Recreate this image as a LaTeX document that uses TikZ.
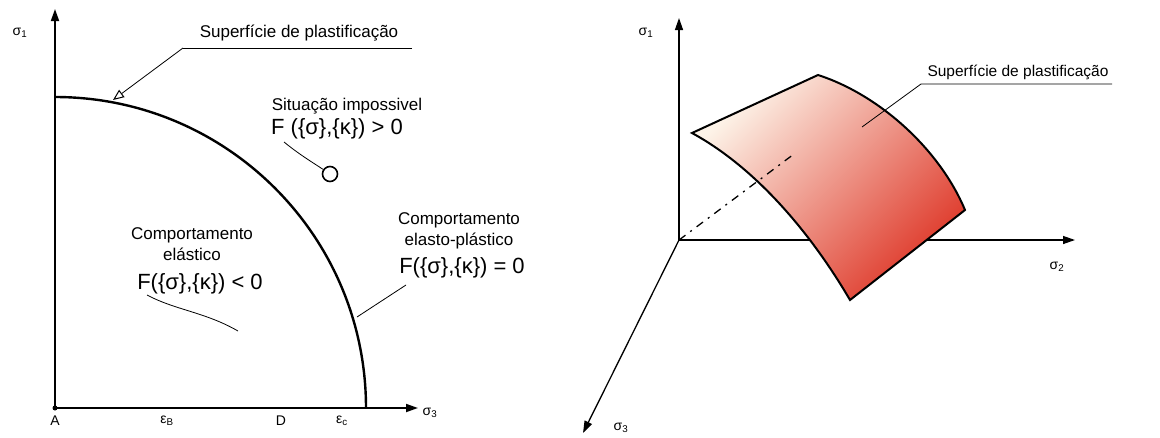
\documentclass[tikz,border=0pt]{standalone}
\usepackage{fontspec}
\setmainfont{Liberation Sans}
\usetikzlibrary{arrows.meta}
\definecolor{cream}{RGB}{253,243,232}
\definecolor{pinkmid}{RGB}{242,160,140}
\definecolor{surfred}{RGB}{222,55,40}
\tikzset{
  axisline/.style={line width=1.8pt, -{Triangle[length=12pt,width=8pt]}},
  yieldcurve/.style={line width=2.4pt},
  leader/.style={line width=0.8pt},
  lbl/.style={font=\fontsize{17}{20}\selectfont, inner sep=0pt},
  rlbl/.style={font=\fontsize{15.5}{18}\selectfont, inner sep=0pt},
  formula/.style={font=\fontsize{22}{24}\selectfont, inner sep=0pt},
  small/.style={font=\fontsize{14}{16}\selectfont, inner sep=0pt},
}
\begin{document}
\begin{tikzpicture}[x=1pt,y=-1pt]
\useasboundingbox (0,0) rectangle (1160,437);
% ---------- left diagram ----------
\coordinate (A) at (55,408);
\coordinate (Ytop) at (55,9);
\coordinate (Xend) at (418,408);
\draw[axisline] (A) -- (Ytop);
\draw[axisline] (A) -- (Xend);
\fill (A) circle[radius=2.5];
\coordinate (C0) at (55,97);
\draw[yieldcurve] (C0) arc[start angle=90, end angle=0, radius=311pt] coordinate (C1);
\node[small] (s1) at (20,33) {σ\textsubscript{1}};
\node[small] (s3) at (430,413) {σ\textsubscript{3}};
\node[small] (lA) at (55,421) {A};
\node[small] (lB) at (167,421) {ε\textsubscript{B}};
\node[small] (lD) at (281,421) {D};
\node[small] (lC) at (342,421) {ε\textsubscript{c}};
% yield surface label
\node[lbl] (t1) at (299,33) {Superfície de plastificação};
\coordinate (u1a) at (183,48);
\coordinate (u1b) at (412,48);
\coordinate (p1) at (113,100);
\draw[leader] (u1b) -- (u1a);
\draw[leader, -{Triangle[open,length=11pt,width=9pt,line width=1pt]}] (u1a) -- (p1);
% impossible
\node[lbl] (t2) at (347,106) {Situação impossivel};
\node[formula] (f2) at (337,129) {F (\{σ\},\{κ\}) > 0};
\node[circle, draw, line width=1.6pt, minimum size=15pt, inner sep=0pt] (circ) at (330,174) {};
\coordinate (q2) at (284,142);
\draw[leader] (q2) .. controls (300,155) and (312,162) .. (circ);
% elastic
\node[lbl, align=center] (t3) at (192,244) {Comportamento\\[1pt]elástico};
\node[formula] (f3) at (200,284) {F(\{σ\},\{κ\}) < 0};
\coordinate (q3a) at (147,295);
\coordinate (q3b) at (238,331);
\draw[leader] (q3a) .. controls (175,310) and (205,312) .. (q3b);
% elasto-plastic
\node[lbl, align=center] (t4) at (459,231) {Comportamento\\[1pt]elasto-plástico};
\node[formula] (f4) at (462,268) {F(\{σ\},\{κ\}) = 0};
\coordinate (q4a) at (406,285);
\coordinate (q4b) at (357,317);
\draw[leader] (q4a) -- (q4b);
% ---------- right diagram ----------
\coordinate (O) at (679,240);
\coordinate (Y1) at (679,18);
\coordinate (X2) at (1075,240);
\coordinate (X3r) at (583,433);
\draw[axisline, line width=1.3pt] (O) -- (Y1);
\draw[axisline, line width=1.3pt] (O) -- (X2);
\draw[axisline, line width=1.3pt] (O) -- (X3r);
\node[small] (rs1) at (646,33) {σ\textsubscript{1}};
\node[small] (rs2) at (1057,267) {σ\textsubscript{2}};
\node[small] (rs3) at (621,428) {σ\textsubscript{3}};
% surface
\coordinate (S1) at (692,133);
\coordinate (S2) at (818,75);
\coordinate (S3) at (965,210);
\coordinate (S4) at (850,300);
\shade[top color=cream, middle color=pinkmid, bottom color=surfred, shading angle=45]
  (S1) -- (S2) .. controls (880,95) and (940,150) .. (S3) -- (S4)
  .. controls (815,240) and (760,170) .. (S1) -- cycle;
\draw[line width=2pt, line join=miter]
  (S1) -- (S2) .. controls (880,95) and (940,150) .. (S3) -- (S4)
  .. controls (815,240) and (760,170) .. (S1) -- cycle;
\coordinate (D1) at (794,154);
\draw[line width=1.3pt, dash pattern=on 8pt off 6pt on 2pt off 6pt] (O) -- (D1);
% label
\node[rlbl] (t5) at (1018,72) {Superfície de plastificação};
\coordinate (u5a) at (921,84);
\coordinate (u5b) at (1112,84);
\coordinate (p5) at (862,127);
\draw[leader] (u5b) -- (u5a) -- (p5);
\end{tikzpicture}
\end{document}
